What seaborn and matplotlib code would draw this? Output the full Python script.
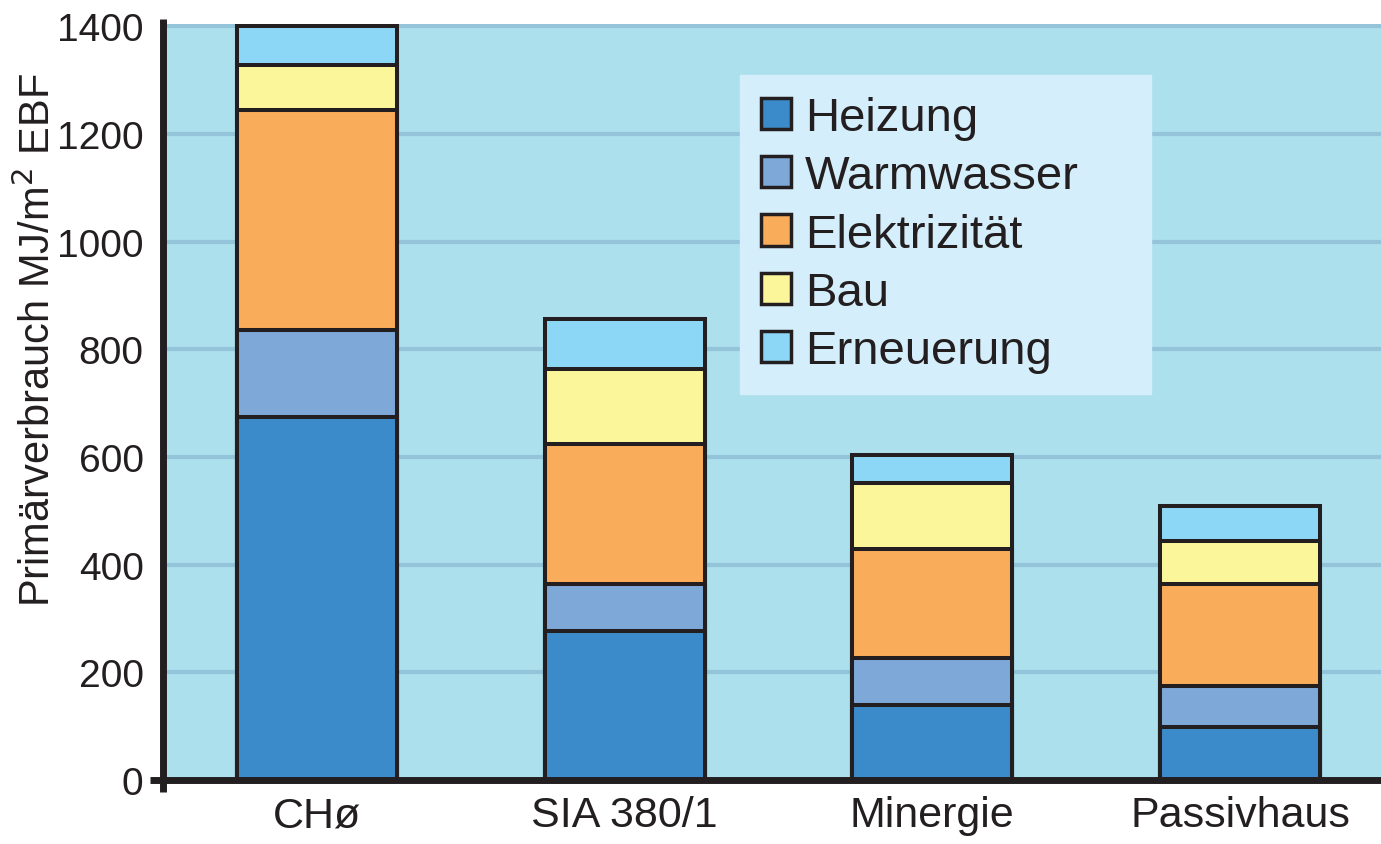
import matplotlib
matplotlib.use("Agg")
import matplotlib.pyplot as plt
import seaborn as sns
import numpy as np
import pandas as pd
from matplotlib.patches import Patch

categories = ["CHø", "SIA 380/1", "Minergie", "Passivhaus"]
series_names = ["Heizung", "Warmwasser", "Elektrizität", "Bau", "Erneuerung"]
heizung = [675, 277, 139, 98]
warmwasser = [160, 87, 88, 77]
elektrizitaet = [410, 260, 202, 189]
bau = [82, 139, 123, 80]
erneuerung = [73, 93, 51, 65]
yticks = [0, 200, 400, 600, 800, 1000, 1200, 1400]

colors = ["#3B8AC9", "#7DA8D8", "#F9AC5A", "#FCF69A", "#8DD7F6"]
edge = "#231F20"

sns.set_theme(style="white")
plt.rcParams["font.family"] = ["Liberation Sans", "DejaVu Sans"]

series = [heizung, warmwasser, elektrizitaet, bau, erneuerung]
cum = np.cumsum(np.array(series), axis=0)

fig = plt.figure(figsize=(13.81, 8.45), dpi=100)
ax = fig.add_axes([163/1381, 64/845, 1218/1381, 756/845])
ax.set_facecolor("#ADE0ED")

for i in range(len(series) - 1, -1, -1):
    df = pd.DataFrame({"cat": categories, "val": cum[i]})
    sns.barplot(data=df, x="cat", y="val", color=colors[i], saturation=1,
                width=0.52, edgecolor=edge, linewidth=2.9, ax=ax, zorder=3)

ax.set_xlim(-0.5, 3.458)
ax.set_ylim(0, 1404)
ax.set_yticks(yticks)
ax.set_yticklabels([str(v) for v in yticks])
ax.yaxis.grid(True, color="#93C4D9", linewidth=3, zorder=0)
ax.set_axisbelow(True)
ax.tick_params(axis="y", length=0, pad=14, labelsize=28, labelcolor=edge)
ax.tick_params(axis="x", length=0, pad=11, labelsize=31, labelcolor=edge)
ax.set_xlabel("")
ax.set_ylabel("")
fig.text(38/1381, 1 - 340/845, "Primärverbrauch MJ/m$^2$ EBF", rotation=90,
         ha="center", va="center", fontsize=30, color=edge)

for s in ["top", "right"]:
    ax.spines[s].set_visible(False)
for s in ["left", "bottom"]:
    ax.spines[s].set_color(edge)
    ax.spines[s].set_linewidth(5)
    ax.spines[s].set_zorder(5)

# small cross extensions at the origin
ax.plot([-0.5, -0.5], [0, -0.016], transform=ax.get_xaxis_transform(), color=edge,
        lw=5, clip_on=False, solid_capstyle="butt", zorder=6)
ax.plot([-0.011, 0], [0, 0], transform=ax.transAxes, color=edge,
        lw=5, clip_on=False, solid_capstyle="butt", zorder=6)
ax.plot([0, 0], [1, 1.006], transform=ax.transAxes, color=edge,
        lw=5, clip_on=False, solid_capstyle="butt", zorder=6)

handles = [Patch(facecolor=c, edgecolor=edge, linewidth=2.5) for c in colors]
leg = ax.legend(handles, series_names, loc="upper left",
                bbox_to_anchor=(0.4737, 0.9325 - 0.42, 0.3374, 0.42), mode="expand",
                fontsize=34, frameon=True, fancybox=False, handlelength=0.64,
                handleheight=0.64, handletextpad=0.28, labelspacing=0.3,
                borderpad=0.45, borderaxespad=0)
leg.get_frame().set_facecolor("#D4EEFB")
leg.get_frame().set_edgecolor("#D4EEFB")
leg.get_frame().set_alpha(1)
for t in leg.get_texts():
    t.set_color(edge)

fig.savefig("out.png", dpi=100)
